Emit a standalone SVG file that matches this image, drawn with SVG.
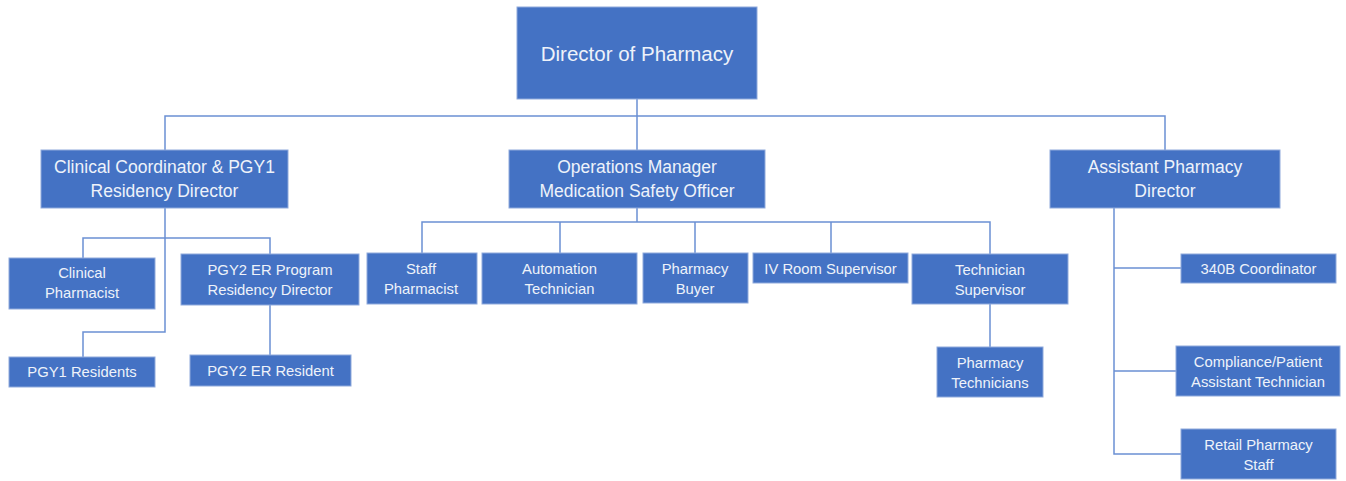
<svg xmlns="http://www.w3.org/2000/svg" width="1346" height="481" viewBox="0 0 1346 481">
<style>
.box{fill:#4472C4;stroke:#8FAADC;stroke-width:1}
.t{fill:#EEF2FA;font-family:"Liberation Sans",Arial,sans-serif;text-anchor:middle;dominant-baseline:central}
.big{font-size:20.5px}
.mid{font-size:17.5px}
.sm{font-size:14.8px}
.ln{fill:none;stroke:#6B90D4;stroke-width:1.5}
</style>
<rect width="1346" height="481" fill="#FFFFFF"/>
<g id="connectors">
<path class="ln" d="M637,99 V150 M165,150 V116 H1165 V150"/>
<path class="ln" d="M165,208 V332 H83 V357 M83,258 V238 H270 V254 M270,305 V355"/>
<path class="ln" d="M637,208 V222 M422,253 V222 H990 V254 M560,222 V253 M695,222 V253 M831,222 V253 M990,304 V347"/>
<path class="ln" d="M1114,208 V454 H1181 M1114,268 H1181 M1114,371 H1176"/>
</g>
<g id="director"><rect class="box" x="517" y="7" width="240" height="92"/><text class="t big" x="637" y="53">Director of Pharmacy</text></g>
<g id="clinical-coordinator"><rect class="box" x="41" y="150" width="247" height="58"/><text class="t mid" x="164.500" y="167">Clinical Coordinator &amp; PGY1</text><text class="t mid" x="164.500" y="191">Residency Director</text></g>
<g id="operations-manager"><rect class="box" x="509" y="150" width="256" height="58"/><text class="t mid" x="637" y="167">Operations Manager</text><text class="t mid" x="637" y="191">Medication Safety Officer</text></g>
<g id="assistant-director"><rect class="box" x="1050" y="150" width="230" height="58"/><text class="t mid" x="1165" y="167">Assistant Pharmacy</text><text class="t mid" x="1165" y="191">Director</text></g>
<g id="clinical-pharmacist"><rect class="box" x="9" y="258" width="146" height="51"/><text class="t sm" x="82" y="273">Clinical</text><text class="t sm" x="82" y="293">Pharmacist</text></g>
<g id="pgy2-director"><rect class="box" x="181" y="254" width="178" height="51"/><text class="t sm" x="270" y="270">PGY2 ER Program</text><text class="t sm" x="270" y="290">Residency Director</text></g>
<g id="pgy1-residents"><rect class="box" x="9" y="357" width="146" height="30"/><text class="t sm" x="82" y="372">PGY1 Residents</text></g>
<g id="pgy2-resident"><rect class="box" x="190" y="355" width="161" height="31"/><text class="t sm" x="270.500" y="371">PGY2 ER Resident</text></g>
<g id="staff-pharmacist"><rect class="box" x="367" y="253" width="110" height="51"/><text class="t sm" x="421" y="269">Staff</text><text class="t sm" x="421" y="289">Pharmacist</text></g>
<g id="automation-technician"><rect class="box" x="482" y="253" width="155" height="51"/><text class="t sm" x="559.500" y="269">Automation</text><text class="t sm" x="559.500" y="289">Technician</text></g>
<g id="pharmacy-buyer"><rect class="box" x="643" y="253" width="105" height="50"/><text class="t sm" x="695" y="269">Pharmacy</text><text class="t sm" x="695" y="289">Buyer</text></g>
<g id="iv-room-supervisor"><rect class="box" x="753" y="253" width="155" height="30"/><text class="t sm" x="830.500" y="269">IV Room Supervisor</text></g>
<g id="technician-supervisor"><rect class="box" x="912" y="254" width="156" height="50"/><text class="t sm" x="990" y="270">Technician</text><text class="t sm" x="990" y="290">Supervisor</text></g>
<g id="pharmacy-technicians"><rect class="box" x="937" y="347" width="106" height="50"/><text class="t sm" x="990" y="363">Pharmacy</text><text class="t sm" x="990" y="383">Technicians</text></g>
<g id="coordinator-340b"><rect class="box" x="1181" y="254" width="155" height="29"/><text class="t sm" x="1258.500" y="269">340B Coordinator</text></g>
<g id="compliance-technician"><rect class="box" x="1176" y="346" width="164" height="50"/><text class="t sm" x="1258" y="362">Compliance/Patient</text><text class="t sm" x="1258" y="382">Assistant Technician</text></g>
<g id="retail-pharmacy-staff"><rect class="box" x="1181" y="429" width="155" height="50"/><text class="t sm" x="1258.500" y="445">Retail Pharmacy</text><text class="t sm" x="1258.500" y="465">Staff</text></g>
</svg>
